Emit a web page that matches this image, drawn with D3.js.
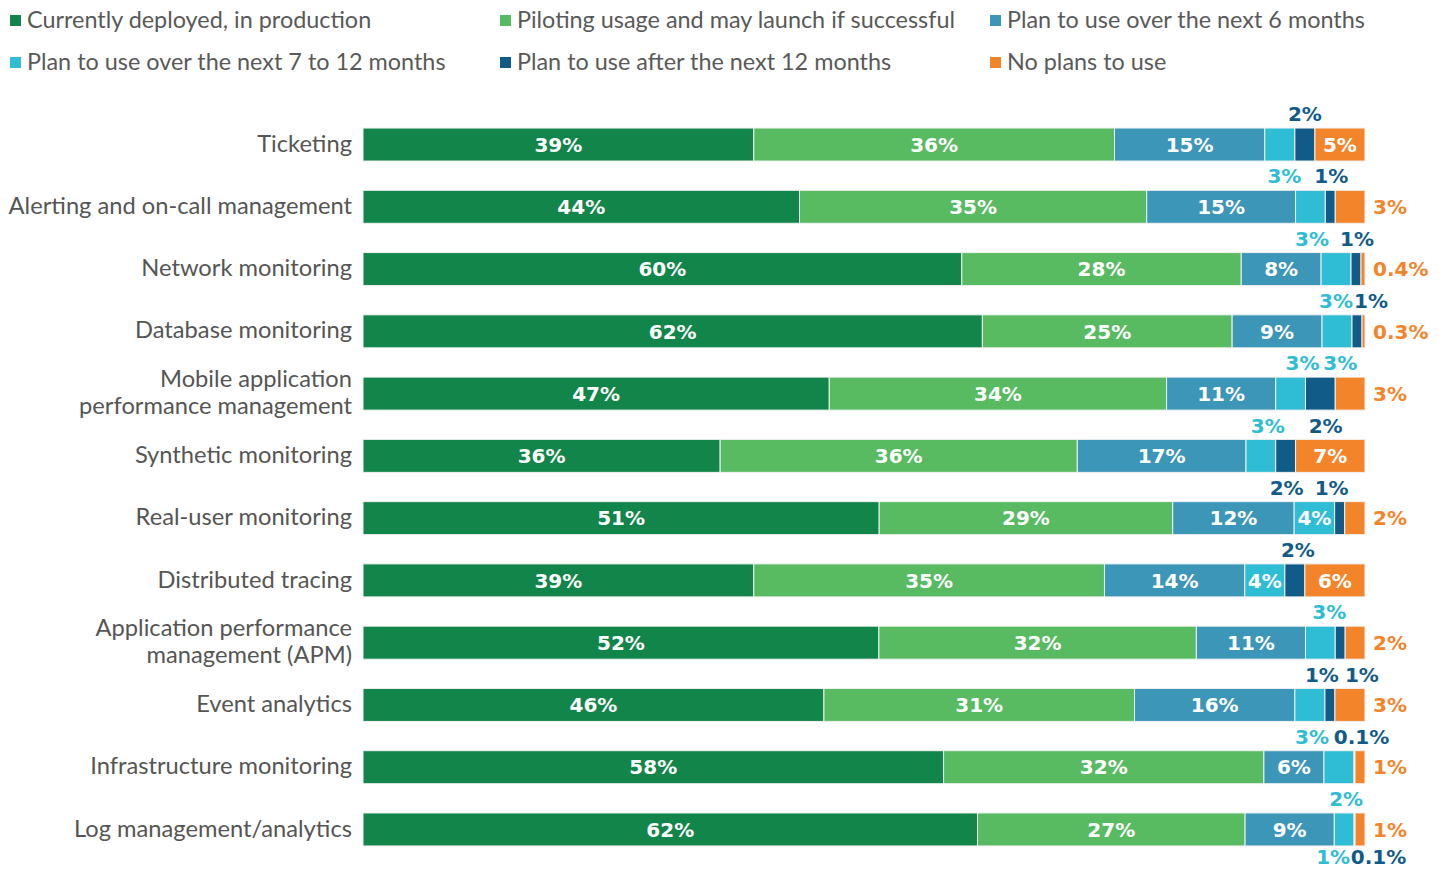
<!DOCTYPE html>
<html lang="en">
<head>
<meta charset="utf-8">
<title>Observability adoption</title>
<script src="https://d3js.org/d3.v7.js"></script>
<style>
  body { margin: 0; background: #fff; }
  text { font-family: Lato, "Open Sans", sans-serif; }
  .num { font-family: "DejaVu Sans", sans-serif; font-weight: bold; }
</style>
</head>
<body>
<div id="my_dataviz"></div>
<script>

// categories, top to bottom
const categories = [
  "Ticketing",
  "Alerting and on-call management",
  "Network monitoring",
  "Database monitoring",
  "Mobile application|performance management",
  "Synthetic monitoring",
  "Real-user monitoring",
  "Distributed tracing",
  "Application performance|management (APM)",
  "Event analytics",
  "Infrastructure monitoring",
  "Log management/analytics"
];

const seriesNames = [
  "Currently deployed, in production",
  "Piloting usage and may launch if successful",
  "Plan to use over the next 6 months",
  "Plan to use over the next 7 to 12 months",
  "Plan to use after the next 12 months",
  "No plans to use"
];

const deployed  = [39, 44, 60, 62, 47, 36, 51, 39, 52, 46, 58, 62];
const piloting  = [36, 35, 28, 25, 34, 36, 29, 35, 32, 31, 32, 27];
const next6     = [15, 15, 8, 9, 11, 17, 12, 14, 11, 16, 6, 9];
const next7to12 = [3, 3, 3, 3, 3, 3, 4, 4, 3, 3, 3, 2];
const after12   = [2, 1, 1, 1, 3, 2, 1, 2, 1, 1, 0.1, 0.1];
const noPlans   = [5, 3, 0.4, 0.3, 3, 7, 2, 6, 2, 3, 1, 1];

const colors = ["#12864a", "#58bb62", "#3b96b8", "#2ebdd4", "#115b88", "#f4842a"];

// labels that sit outside the bars: row, series it belongs to, text, where, nudge
const callouts = [
  {row: 0, s: 4, text: "2%", place: "above", dx: 0},
  {row: 1, s: 3, text: "3%", place: "above", dx: -26},
  {row: 1, s: 4, text: "1%", place: "above", dx: 1},
  {row: 1, s: 5, text: "3%", place: "right"},
  {row: 2, s: 3, text: "3%", place: "above", dx: -24},
  {row: 2, s: 4, text: "1%", place: "above", dx: 1},
  {row: 2, s: 5, text: "0.4%", place: "right"},
  {row: 3, s: 3, text: "3%", place: "above", dx: -1},
  {row: 3, s: 4, text: "1%", place: "above", dx: 14},
  {row: 3, s: 5, text: "0.3%", place: "right"},
  {row: 4, s: 3, text: "3%", place: "above", dx: 12},
  {row: 4, s: 4, c: 3, text: "3%", place: "above", dx: 20},
  {row: 4, s: 5, text: "3%", place: "right"},
  {row: 5, s: 3, text: "3%", place: "above", dx: 7},
  {row: 5, s: 4, text: "2%", place: "above", dx: 40},
  {row: 6, s: 4, text: "2%", place: "above", dx: -53},
  {row: 6, s: 4, text: "1%", place: "above", dx: -8},
  {row: 6, s: 5, text: "2%", place: "right"},
  {row: 7, s: 4, text: "2%", place: "above", dx: 3},
  {row: 8, s: 3, text: "3%", place: "above", dx: 9},
  {row: 8, s: 5, text: "2%", place: "right"},
  {row: 9, s: 4, text: "1%", place: "above", dx: -8},
  {row: 9, s: 4, text: "1%", place: "above", dx: 32},
  {row: 9, s: 5, text: "3%", place: "right"},
  {row: 10, s: 3, text: "3%", place: "above", dx: -27},
  {row: 10, s: 4, text: "0.1%", place: "above", dx: 7},
  {row: 10, s: 5, text: "1%", place: "right"},
  {row: 11, s: 3, text: "2%", place: "above", dx: 2},
  {row: 11, s: 3, text: "1%", place: "below", dx: -11},
  {row: 11, s: 4, text: "0.1%", place: "below", dx: 24},
  {row: 11, s: 5, text: "1%", place: "right"}
];

const W = 1445, H = 869;
const keys = ["deployed", "piloting", "next6", "next7to12", "after12", "noPlans"];
const series = [deployed, piloting, next6, next7to12, after12, noPlans];
const table = categories.map((c, i) => {
  const row = {cat: c};
  keys.forEach((k, j) => row[k] = series[j][i]);
  return row;
});

const svg = d3.select("#my_dataviz")
  .append("svg")
    .attr("width", W)
    .attr("height", H);

const x = d3.scaleLinear().domain([0, 1]).range([363, 1365]);
const y = d3.scaleBand()
  .domain(categories)
  .range([113.4, 860.6])
  .paddingInner(0.47)
  .paddingOuter(0.235);

const stacked = d3.stack().keys(keys).offset(d3.stackOffsetExpand)(table);

// legend
const legend = svg.append("g");
const legX = [10, 500, 990], legY = [20, 62];
seriesNames.forEach((name, i) => {
  const g = legend.append("g")
    .attr("transform", `translate(${legX[i % 3]}, ${legY[Math.floor(i / 3)]})`);
  g.append("rect").attr("x", 0).attr("y", -5).attr("width", 11).attr("height", 11)
    .attr("fill", colors[i]);
  g.append("text").attr("x", 17).attr("y", 0).attr("dy", "0.35em")
    .attr("font-size", 23.4).attr("fill", "#595959").text(name);
});

// category labels
svg.append("g").selectAll("text")
  .data(categories)
  .join("text")
    .attr("x", 352)
    .attr("y", d => y(d) + y.bandwidth() / 2)
    .attr("text-anchor", "end")
    .attr("font-size", 23.7)
    .attr("fill", "#555")
    .each(function(d) {
      const lines = d.split("|");
      const t = d3.select(this);
      lines.forEach((l, k) => {
        t.append("tspan")
          .attr("x", 352)
          .attr("dy", k === 0 ? `${0.3 - (lines.length - 1) * 0.57}em` : "1.14em")
          .text(l);
      });
    });

// bars
const layers = svg.append("g").selectAll("g")
  .data(stacked)
  .join("g")
    .attr("fill", (d, i) => colors[i]);

layers.selectAll("rect")
  .data(d => d)
  .join("rect")
    .attr("x", d => x(d[0]))
    .attr("y", d => y(d.data.cat))
    .attr("width", d => x(d[1]) - x(d[0]))
    .attr("height", y.bandwidth())
    .attr("stroke", "#f2f2f2")
    .attr("stroke-width", 1);

// labels inside segments
layers.selectAll("text")
  .data(d => d.map(p => ({p, v: p.data[d.key]})).filter(o => o.v >= 4))
  .join("text")
    .attr("class", "num")
    .attr("x", o => (x(o.p[0]) + x(o.p[1])) / 2)
    .attr("y", o => y(o.p.data.cat) + y.bandwidth() / 2)
    .attr("dy", "0.36em")
    .attr("text-anchor", "middle")
    .attr("font-size", 20)
    .attr("fill", "#fff")
    .text(o => o.v + "%");

// labels outside the bars
svg.append("g").selectAll("text")
  .data(callouts)
  .join("text")
    .attr("class", "num")
    .attr("x", d => {
      const seg = stacked[d.s][d.row];
      if (d.place === "right") return x(1) + 8;
      return (x(seg[0]) + x(seg[1])) / 2 + d.dx;
    })
    .attr("y", d => {
      const cat = categories[d.row];
      if (d.place === "above") return y(cat) - 14;
      if (d.place === "below") return y(cat) + y.bandwidth() + 11;
      return y(cat) + y.bandwidth() / 2;
    })
    .attr("dy", "0.36em")
    .attr("text-anchor", d => d.place === "right" ? "start" : "middle")
    .attr("font-size", 20)
    .attr("fill", d => colors[d.c !== undefined ? d.c : d.s])
    .text(d => d.text);

</script>
</body>
</html>
